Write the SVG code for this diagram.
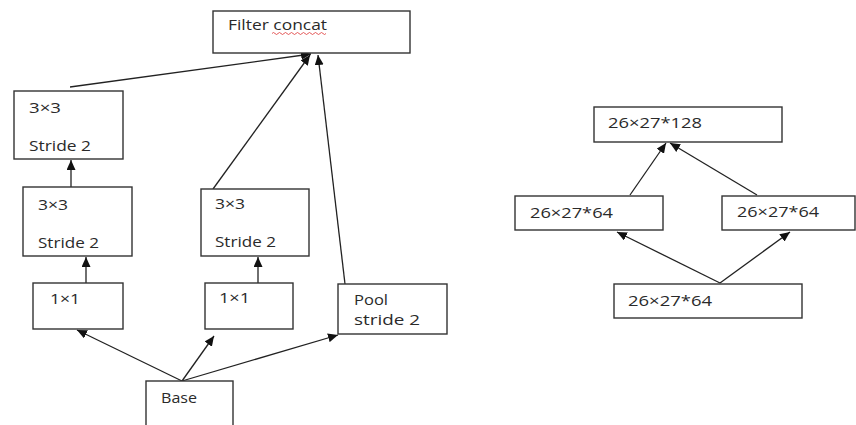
<svg xmlns="http://www.w3.org/2000/svg" width="856" height="425" viewBox="0 0 856 425">
  <defs>
    <marker id="arrow" markerUnits="userSpaceOnUse" markerWidth="11" markerHeight="9" refX="10" refY="4.5" orient="auto">
      <path d="M0,0 L10,4.5 L0,9 z" fill="#111"/>
    </marker>
    <style>
      .box { fill: #fff; stroke: #333; stroke-width: 1.4; }
      .lbl { font-family: "Open Sans", "Liberation Sans", Arial, sans-serif; font-size: 14px; fill: #2a2a2a; }
      .lbl2 { font-family: "Open Sans", "Liberation Sans", Arial, sans-serif; font-size: 15px; fill: #2a2a2a; }
      .edge { fill: none; stroke: #222; stroke-width: 1.3; marker-end: url(#arrow); }
    </style>
  </defs>
  <rect width="856" height="425" fill="#fff"/>

  <!-- connectors -->
  <g id="connectors">
    <!-- left network -->
    <line class="edge" x1="70" y1="87" x2="311" y2="54"/>
    <line class="edge" x1="213" y1="189" x2="310" y2="55"/>
    <line class="edge" x1="345" y1="284" x2="318" y2="55"/>
    <line class="edge" x1="71" y1="187" x2="71" y2="160"/>
    <line class="edge" x1="86" y1="283" x2="86" y2="257"/>
    <line class="edge" x1="258" y1="283" x2="258" y2="257"/>
    <line class="edge" x1="182" y1="381" x2="77" y2="330"/>
    <line class="edge" x1="182" y1="381" x2="214" y2="336"/>
    <line class="edge" x1="182" y1="381" x2="338" y2="335"/>
    <!-- right network -->
    <line class="edge" x1="720" y1="283" x2="617" y2="232"/>
    <line class="edge" x1="720" y1="283" x2="790" y2="232"/>
    <line class="edge" x1="630" y1="195" x2="666" y2="143"/>
    <line class="edge" x1="757" y1="195" x2="670" y2="143"/>
  </g>

  <!-- left network nodes -->
  <g id="filter-concat">
    <rect class="box" x="213" y="11" width="197" height="42"/>
    <text class="lbl" x="228" y="30" textLength="99" lengthAdjust="spacingAndGlyphs">Filter concat</text>
    <path d="M272,33.5 q1.5,-2 3,0 t3,0 t3,0 t3,0 t3,0 t3,0 t3,0 t3,0 t3,0 t3,0 t3,0 t3,0 t3,0 t3,0 t3,0 t3,0 t3,0 t3,0" fill="none" stroke="#d33" stroke-width="0.8"/>
  </g>
  <g id="conv3x3-a2">
    <rect class="box" x="14" y="91" width="109" height="68"/>
    <text class="lbl" x="29" y="113" textLength="32" lengthAdjust="spacingAndGlyphs">3×3</text>
    <text class="lbl" x="29" y="151" textLength="62" lengthAdjust="spacingAndGlyphs">Stride 2</text>
  </g>
  <g id="conv3x3-a1">
    <rect class="box" x="23" y="187" width="109" height="69"/>
    <text class="lbl" x="38" y="210" textLength="30" lengthAdjust="spacingAndGlyphs">3×3</text>
    <text class="lbl" x="38" y="248" textLength="61" lengthAdjust="spacingAndGlyphs">Stride 2</text>
  </g>
  <g id="conv1x1-a">
    <rect class="box" x="33" y="283" width="90" height="46"/>
    <text class="lbl" x="50" y="304" textLength="30" lengthAdjust="spacingAndGlyphs">1×1</text>
  </g>
  <g id="conv3x3-b">
    <rect class="box" x="201" y="189" width="108" height="67"/>
    <text class="lbl" x="215" y="209" textLength="30" lengthAdjust="spacingAndGlyphs">3×3</text>
    <text class="lbl" x="215" y="247" textLength="61" lengthAdjust="spacingAndGlyphs">Stride 2</text>
  </g>
  <g id="conv1x1-b">
    <rect class="box" x="205" y="283" width="88" height="46"/>
    <text class="lbl" x="219" y="303" textLength="31" lengthAdjust="spacingAndGlyphs">1×1</text>
  </g>
  <g id="pool">
    <rect class="box" x="338" y="284" width="109" height="50"/>
    <text class="lbl" x="354" y="305" textLength="34" lengthAdjust="spacingAndGlyphs">Pool</text>
    <text class="lbl" x="354" y="325" textLength="66" lengthAdjust="spacingAndGlyphs">stride 2</text>
  </g>
  <g id="base">
    <rect class="box" x="146" y="381" width="87" height="60"/>
    <text class="lbl" x="161" y="403" textLength="36" lengthAdjust="spacingAndGlyphs">Base</text>
  </g>

  <!-- right network nodes -->
  <g id="out-128">
    <rect class="box" x="594" y="107" width="188" height="35"/>
    <text class="lbl2" x="608" y="128" textLength="94" lengthAdjust="spacingAndGlyphs">26×27*128</text>
  </g>
  <g id="branch-left">
    <rect class="box" x="515" y="196" width="148" height="34"/>
    <text class="lbl2" x="530" y="218" textLength="83" lengthAdjust="spacingAndGlyphs">26×27*64</text>
  </g>
  <g id="branch-right">
    <rect class="box" x="722" y="196" width="133" height="34"/>
    <text class="lbl2" x="737" y="217" textLength="82" lengthAdjust="spacingAndGlyphs">26×27*64</text>
  </g>
  <g id="input-64">
    <rect class="box" x="614" y="284" width="188" height="34"/>
    <text class="lbl2" x="628" y="306" textLength="84" lengthAdjust="spacingAndGlyphs">26×27*64</text>
  </g>
</svg>
